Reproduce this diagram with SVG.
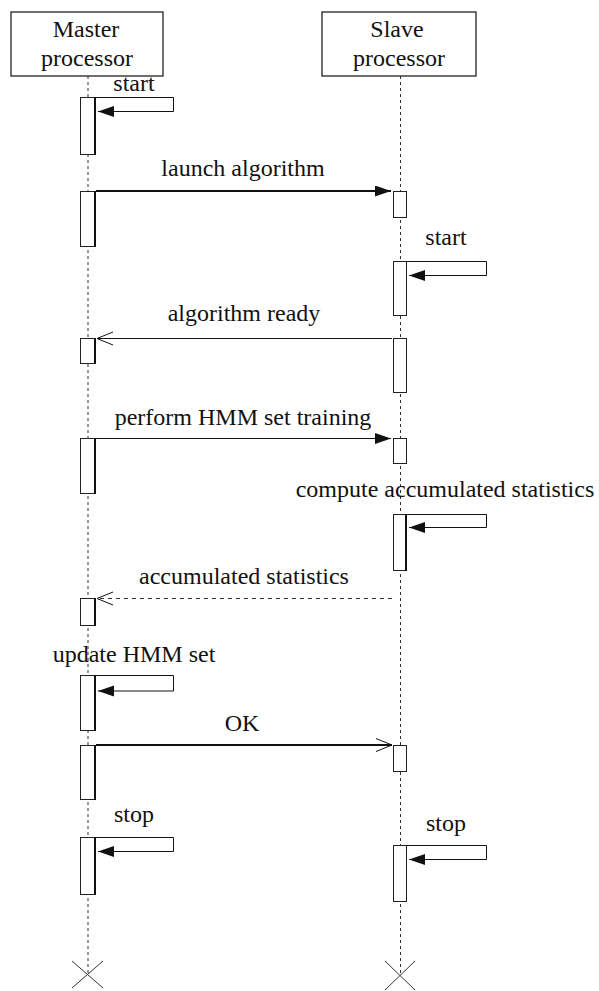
<svg xmlns="http://www.w3.org/2000/svg" width="599" height="991" viewBox="0 0 599 991">
  <style>
    .box { fill: #fff; stroke: #222; stroke-width: 1.3; }
    .life { stroke: #333; stroke-width: 1; stroke-dasharray: 3 3; fill: none; }
    .act { fill: #fff; stroke: #222; stroke-width: 1; }
    .edge { stroke: #111; stroke-width: 2; }
    .msg { fill: none; stroke: #111; stroke-width: 1; }
    .call { fill: none; stroke: #111; stroke-width: 2; }
    .ret { fill: none; stroke: #333; stroke-width: 1; stroke-dasharray: 4 4; }
    .x { stroke: #333; stroke-width: 1; fill: none; }
    text { font-family: "Liberation Serif", "Times New Roman", serif; font-size: 24px; fill: #111; text-anchor: middle; }
  </style>
  <defs>
    <marker id="filled" markerUnits="userSpaceOnUse" markerWidth="18" markerHeight="12" refX="16" refY="5.5" orient="auto">
      <path d="M0,0 L16,5.5 L0,11 z" fill="#111"/>
    </marker>
    <marker id="open" markerUnits="userSpaceOnUse" markerWidth="18" markerHeight="16" refX="16.5" refY="7" orient="auto">
      <path d="M0.5,0.5 L16.5,7 L0.5,13.5" fill="none" stroke="#111" stroke-width="1"/>
    </marker>
  </defs>

  <!-- lifelines -->
  <g id="lifelines">
    <line class="life" x1="88" y1="76" x2="88" y2="973"/>
    <line class="life" x1="400.5" y1="76" x2="400.5" y2="974"/>
  </g>

  <!-- participant: master -->
  <g id="master">
    <rect class="box" x="11" y="12" width="152" height="64"/>
    <text x="86" y="37">Master</text>
    <text x="87" y="66">processor</text>
  </g>

  <!-- participant: slave -->
  <g id="slave">
    <rect class="box" x="322" y="12" width="154" height="64"/>
    <text x="397" y="37">Slave</text>
    <text x="399" y="66">processor</text>
  </g>

  <!-- activation bars on the master lifeline -->
  <g id="master-activations">
    <rect class="act" x="80.5" y="97.5" width="15" height="57"/>
    <line class="edge" x1="95" y1="97" x2="95" y2="155"/>
    <rect class="act" x="80.5" y="191.5" width="15" height="55"/>
    <line class="edge" x1="95" y1="191" x2="95" y2="247"/>
    <rect class="act" x="80.5" y="338.5" width="15" height="25"/>
    <line class="edge" x1="95" y1="338" x2="95" y2="364"/>
    <rect class="act" x="80.5" y="438.5" width="15" height="55"/>
    <line class="edge" x1="95" y1="438" x2="95" y2="494"/>
    <rect class="act" x="80.5" y="598.5" width="15" height="27"/>
    <line class="edge" x1="95" y1="598" x2="95" y2="626"/>
    <rect class="act" x="80.5" y="675.5" width="15" height="55"/>
    <line class="edge" x1="95" y1="675" x2="95" y2="731"/>
    <rect class="act" x="80.5" y="745.5" width="15" height="54"/>
    <line class="edge" x1="95" y1="745" x2="95" y2="800"/>
    <rect class="act" x="80.5" y="837.5" width="15" height="57"/>
    <line class="edge" x1="95" y1="837" x2="95" y2="895"/>
  </g>

  <!-- activation bars on the slave lifeline -->
  <g id="slave-activations">
    <rect class="act" x="393.5" y="191.5" width="13" height="26"/>
    <rect class="act" x="393.5" y="261.5" width="13" height="54"/>
    <rect class="act" x="393.5" y="338.5" width="13" height="54"/>
    <rect class="act" x="393.5" y="438.5" width="13" height="25"/>
    <rect class="act" x="393.5" y="514.5" width="13" height="56"/>
    <line class="edge" x1="406" y1="514" x2="406" y2="571"/>
    <rect class="act" x="393.5" y="745.5" width="13" height="26"/>
    <rect class="act" x="393.5" y="845.5" width="13" height="56"/>
  </g>

  <!-- messages -->
  <g id="connectors">
    <path class="msg" d="M96,97.5 H173.5 V111.5 H98" marker-end="url(#filled)"/>
    <line class="call" x1="96" y1="191" x2="391" y2="191" marker-end="url(#filled)"/>
    <path class="msg" d="M407,261.5 H486.5 V275.5 H409" marker-end="url(#filled)"/>
    <line class="msg" x1="392" y1="338.5" x2="97" y2="338.5" marker-end="url(#open)"/>
    <line class="msg" x1="96" y1="438.5" x2="391" y2="438.5" marker-end="url(#filled)"/>
    <path class="msg" d="M407,514.5 H486.5 V527.5 H409" marker-end="url(#filled)"/>
    <line class="ret" x1="392" y1="598.5" x2="97" y2="598.5" marker-end="url(#open)"/>
    <path class="msg" d="M96,675.5 H173.5 V691 H98" marker-end="url(#filled)"/>
    <line class="call" x1="96" y1="745" x2="392" y2="745" marker-end="url(#open)"/>
    <path class="msg" d="M96,837.5 H173.5 V851.5 H98" marker-end="url(#filled)"/>
    <path class="msg" d="M407,845.5 H486.5 V859.5 H409" marker-end="url(#filled)"/>
  </g>

  <!-- message labels -->
  <g id="labels">
    <text x="134" y="91">start</text>
    <text x="243" y="176">launch algorithm</text>
    <text x="446" y="245">start</text>
    <text x="244" y="321">algorithm ready</text>
    <text x="243" y="425">perform HMM set training</text>
    <text x="445" y="497">compute accumulated statistics</text>
    <text x="244" y="584">accumulated statistics</text>
    <text x="134" y="662">update HMM set</text>
    <text x="242" y="731">OK</text>
    <text x="134" y="822">stop</text>
    <text x="446" y="831">stop</text>
  </g>

  <!-- lifeline ends -->
  <g id="master-end">
    <path class="x" d="M72,961 L103,988 M103,961 L72,988"/>
  </g>
  <g id="slave-end">
    <path class="x" d="M385,961 L415,990 M415,961 L385,990"/>
  </g>
</svg>
